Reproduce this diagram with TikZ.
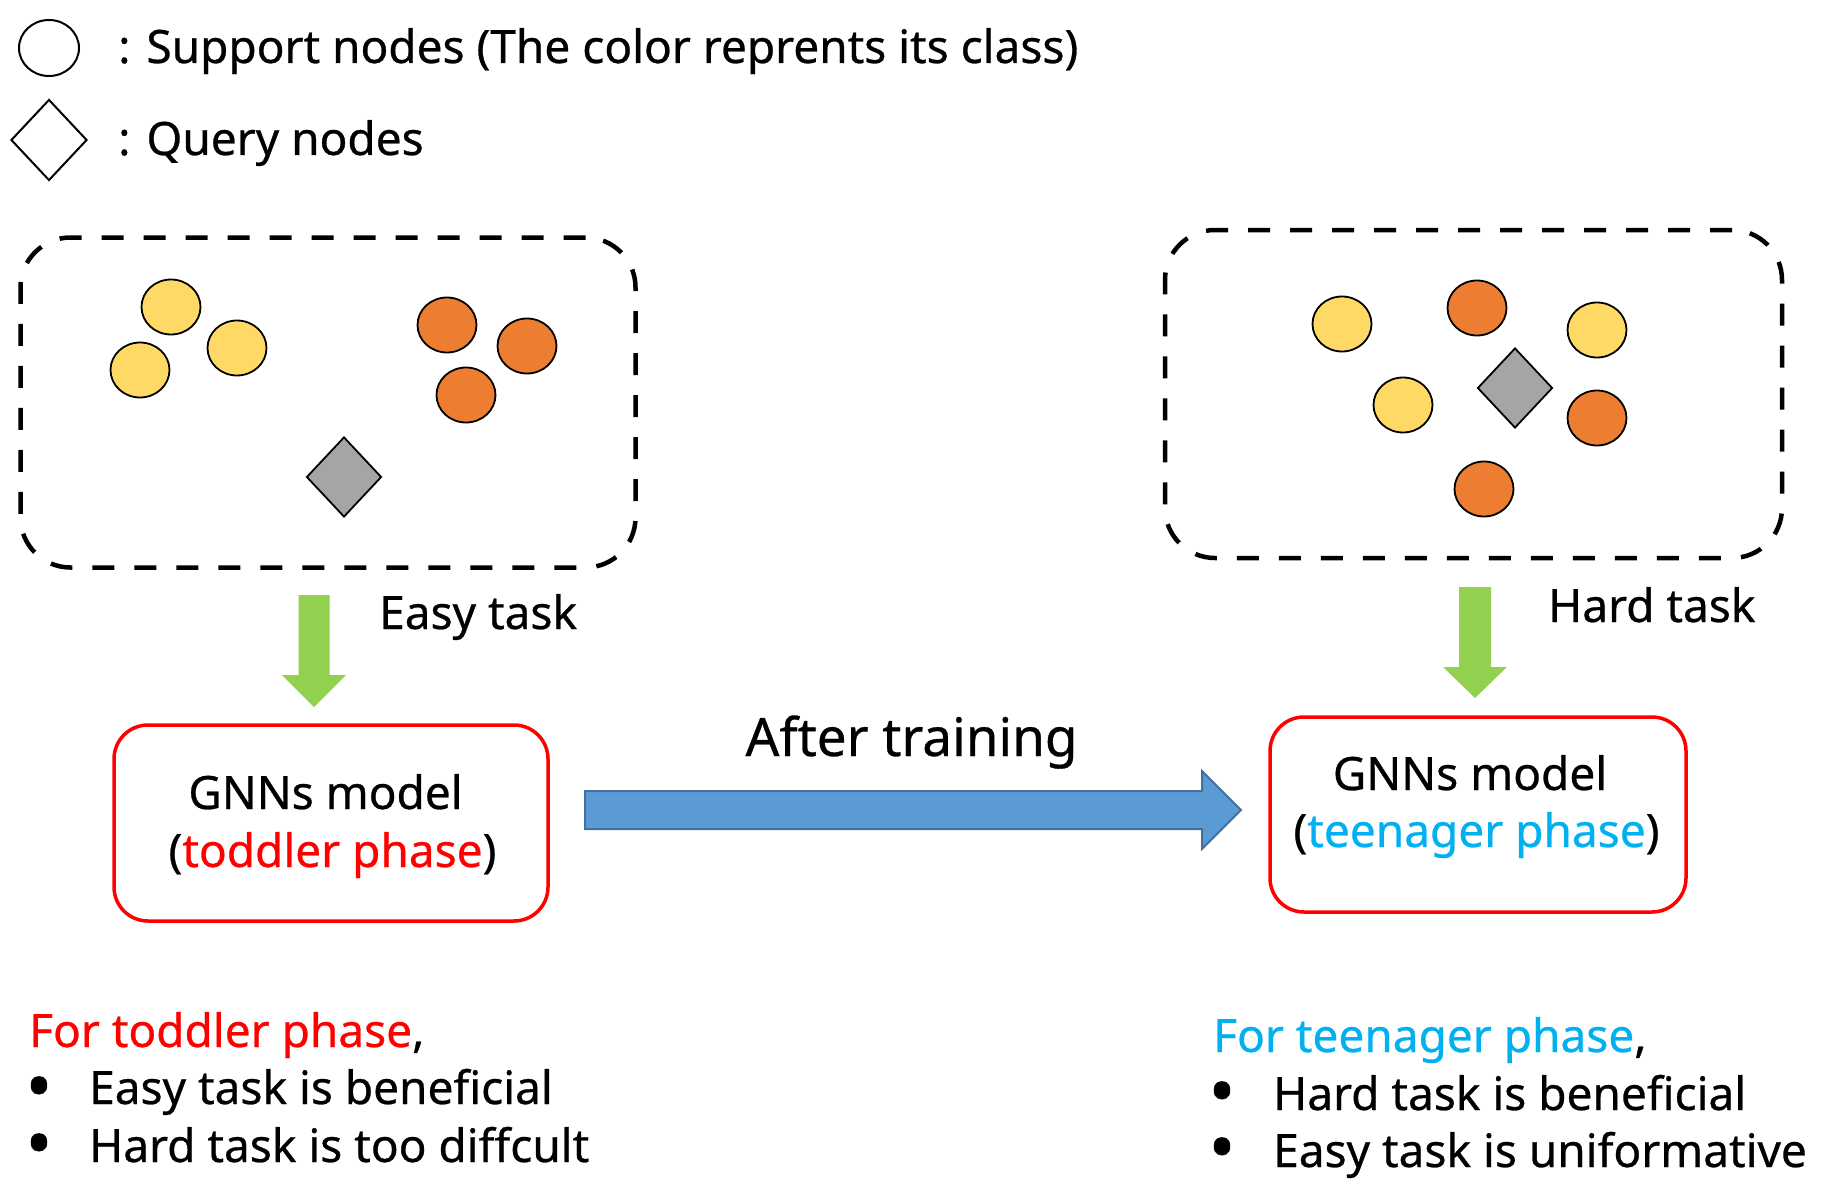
\documentclass[tikz,border=0pt]{standalone}
\usepackage{fontspec}
\setmainfont{Noto Sans}[FakeBold=0.6]
\usetikzlibrary{shapes.geometric}
\definecolor{cyel}{HTML}{FFD966}
\definecolor{corg}{HTML}{ED7D31}
\definecolor{cgray}{HTML}{A5A5A5}
\definecolor{cgreen}{HTML}{92D050}
\definecolor{cblue}{HTML}{5B9BD5}
\definecolor{cblueb}{HTML}{41719C}
\definecolor{cred}{HTML}{FF0000}
\definecolor{ccyan}{HTML}{00B0F0}
\begin{document}
\begin{tikzpicture}[x=1pt,y=-1pt,
  txt/.style={inner sep=0pt, font=\fontsize{46}{58}\selectfont},
  bigtxt/.style={inner sep=0pt, font=\fontsize{53}{64}\selectfont},
  bul/.style={inner sep=0pt, font=\fontsize{72}{76}\selectfont},
  sup/.style={ellipse, draw=black, line width=1.8pt, minimum width=59pt, minimum height=55pt, inner sep=0pt},
  yel/.style={sup, fill=cyel},
  org/.style={sup, fill=corg},
  qry/.style={diamond, draw=black, line width=1.8pt, fill=cgray, minimum width=75pt, minimum height=80pt, inner sep=0pt},
  taskbox/.style={rectangle, draw=black, line width=4.5pt, dash pattern=on 22pt off 20pt, rounded corners=50pt, inner sep=0pt},
  modelbox/.style={rectangle, draw=cred, line width=3.5pt, rounded corners=34pt, inner sep=0pt},
  greenarrow/.style={fill=cgreen, draw=none},
  bluearrow/.style={fill=cblue, draw=cblueb, line width=2pt, line join=miter},
]
\useasboundingbox (0,0) rectangle (1833,1201);

% legend
\node[ellipse, draw=black, line width=2pt, fill=white, minimum width=60pt, minimum height=56pt, inner sep=0pt] (legsup) at (49,48) {};
\node[diamond, draw=black, line width=2pt, fill=white, minimum width=76pt, minimum height=81pt, inner sep=0pt] (legqry) at (49,140) {};
\node[txt, anchor=base west] (legsuptxt) at (118,63) {: Support nodes (The color reprents its class)};
\node[txt, anchor=base west] (legqrytxt) at (118,155) {: Query nodes};

% easy task box
\node[taskbox, minimum width=615pt, minimum height=330pt] (easybox) at (328,402.5) {};
\node[yel] (ey1) at (171,307) {};
\node[yel] (ey2) at (140,370) {};
\node[yel] (ey3) at (237,348) {};
\node[org] (eo1) at (447,325) {};
\node[org] (eo2) at (527,346) {};
\node[org] (eo3) at (466,395) {};
\node[qry] (eq) at (344,477) {};

% hard task box
\node[taskbox, minimum width=617pt, minimum height=328pt] (hardbox) at (1473.5,394) {};
\node[yel] (hy1) at (1342,324) {};
\node[org] (ho1) at (1477,308) {};
\node[yel] (hy2) at (1597,330) {};
\node[yel] (hy3) at (1403,405) {};
\node[qry] (hq) at (1515,388) {};
\node[org] (ho2) at (1597,418) {};
\node[org] (ho3) at (1484,489) {};

% task labels
\node[txt, anchor=base west] (easylbl) at (379,629) {Easy task};
\node[txt, anchor=base west] (hardlbl) at (1548,622) {Hard task};

% green arrows
\path[greenarrow] (298.5,595) -- (329.5,595) -- (329.5,675) -- (346,675) -- (314,707) -- (282,675) -- (298.5,675) -- cycle;
\path[greenarrow] (1459,587) -- (1491,587) -- (1491,667) -- (1507,667) -- (1475,698) -- (1443,667) -- (1459,667) -- cycle;

% model boxes
\node[modelbox, minimum width=434pt, minimum height=196pt] (toddler) at (331,823) {};
\node[modelbox, minimum width=416pt, minimum height=195pt] (teen) at (1478,814.5) {};
\node[txt, anchor=base] (toddlerA) at (325.5,809) {GNNs model};
\node[txt, anchor=base] (toddlerB) at (332.5,867) {(\textcolor{cred}{toddler phase})};
\node[txt, anchor=base] (teenA) at (1470,790) {GNNs model};
\node[txt, anchor=base] (teenB) at (1476.5,847) {(\textcolor{ccyan}{teenager phase})};

% blue arrow
\path[bluearrow] (585,791) -- (1202,791) -- (1202,771) -- (1241,810) -- (1202,849) -- (1202,829) -- (585,829) -- cycle;
\node[bigtxt, anchor=base] (aftertr) at (911.5,756) {After training};

% bottom left
\node[txt, anchor=base west] (fortod) at (29,1047) {\textcolor{cred}{For toddler phase},};
\node[bul] (bl1) at (39,1094) {•};
\node[bul] (bl2) at (39,1151) {•};
\node[txt, anchor=base west] (tl1) at (89,1104) {Easy task is beneficial};
\node[txt, anchor=base west] (tl2) at (89,1162) {Hard task is too diffcult};

% bottom right
\node[txt, anchor=base west] (forteen) at (1213,1052) {\textcolor{ccyan}{For teenager phase},};
\node[bul] (br1) at (1222,1099) {•};
\node[bul] (br2) at (1222,1155) {•};
\node[txt, anchor=base west] (tr1) at (1273,1110) {Hard task is beneficial};
\node[txt, anchor=base west] (tr2) at (1273,1167) {Easy task is uniformative};
\end{tikzpicture}
\end{document}
